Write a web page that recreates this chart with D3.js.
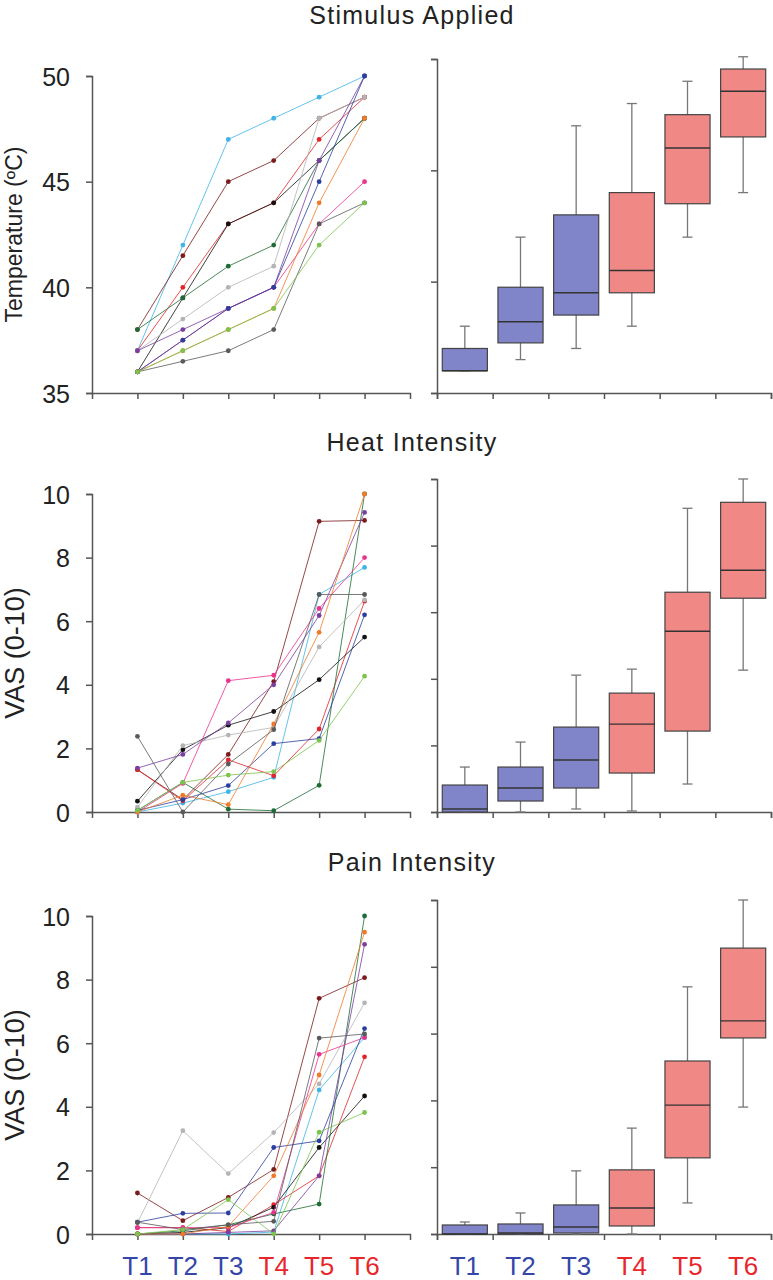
<!DOCTYPE html>
<html>
<head>
    <meta charset="utf-8">
    <title>Stimulus / Heat / Pain</title>
    <style>
        * { margin: 0; padding: 0; }
        body { background: #fff; }
        svg text { font-family: "Liberation Sans", Arial, Helvetica, sans-serif; fill: #222; }
        .axis path, .axis line { stroke: #555; stroke-width: 1.5; }
    </style>
    <script src="https://cdn.jsdelivr.net/npm/d3@7"></script>
</head>
<body>
<div id="root"></div>
<script>
    // time points
    var timepoints = ["T1", "T2", "T3", "T4", "T5", "T6"];
    var tpColors = ["#3446a8", "#3446a8", "#3446a8", "#e8262c", "#e8262c", "#e8262c"];

    // one colour per subject
    var subjectColors = ["#3fb4e5", "#7a1c1c", "#e0262c", "#111111", "#1f6b36", "#b4b4b4",
                         "#7b3fa0", "#e8338f", "#2b3f9c", "#f07a2a", "#5a5a5a", "#7cc44c"];

    // stimulus temperature per subject (T1..T6)
    var tempSeries = [
        [37, 42, 47, 48, 49, 50],
        [38, 41.5, 45, 46, 48, 49],
        [37, 40, 43, 44, 47, 49],
        [36, 39.5, 43, 44, 46, 48],
        [38, 39.5, 41, 42, 46, 48],
        [37, 38.5, 40, 41, 48, 49],
        [37, 38, 39, 40, 46, 50],
        [36, 37.5, 39, 40, 43, 45],
        [36, 37.5, 39, 40, 45, 50],
        [36, 37, 38, 39, 44, 48],
        [36, 36.5, 37, 38, 43, 44],
        [36, 37, 38, 39, 42, 44]
    ];

    // heat intensity VAS per subject
    var heatSeries = [
        [0, 0.28, 0.64, 1.09, 6.84, 7.69],
        [1.33, 0.39, 1.81, 4.10, 9.14, 9.17],
        [1.33, 0.35, 1.64, 1.14, 2.61, 6.63],
        [0.34, 1.96, 2.73, 3.16, 4.16, 5.5],
        [0.05, 0.93, 0.09, 0.04, 0.84, 10],
        [0.15, 2.09, 2.42, 2.66, 5.19, 6.67],
        [1.38, 1.81, 2.80, 4.0, 6.18, 9.42],
        [0, 0.9, 4.13, 4.30, 6.40, 8.0],
        [0.05, 0.39, 0.83, 2.15, 2.31, 6.2],
        [0, 0.53, 0.23, 2.77, 5.65, 10],
        [2.38, 0, 1.51, 2.59, 6.84, 6.84],
        [0.05, 0.93, 1.16, 1.27, 2.25, 4.27]
    ];

    // pain intensity VAS per subject
    var painSeries = [
        [0, 0, 0, 0.06, 4.53, 6.18],
        [1.29, 0.42, 1.15, 2.03, 7.41, 8.06],
        [0.2, 0.2, 0.08, 0.92, 1.83, 5.57],
        [0, 0.05, 0.2, 0.84, 2.72, 4.34],
        [0, 0.1, 0.29, 0.63, 0.94, 10],
        [0.35, 3.25, 1.9, 3.19, 4.72, 7.27],
        [0, 0, 0.05, 0.1, 1.83, 9.11],
        [0.2, 0.2, 0.2, 0.68, 5.65, 6.18],
        [0.37, 0.65, 0.66, 2.72, 2.93, 6.46],
        [0, 0, 0.24, 1.83, 5.0, 9.49],
        [0.37, 0.14, 0.29, 0.4, 6.16, 6.29],
        [0, 0.14, 1.08, 0, 3.2, 3.82]
    ];

    // box stats per time point: [min, q1, median, q3, max]
    var tempBox = [[36, 36, 36, 37, 38], [36.5, 37.25, 38.2, 39.75, 42], [37, 38.5, 39.5, 43, 47],
                   [38, 39.5, 40.5, 44, 48], [42, 43.5, 46, 47.5, 49], [44, 46.5, 48.55, 49.55, 50.1]];
    var heatBox = [[0, 0, 0.09, 0.81, 1.35], [0, 0.33, 0.72, 1.35, 2.1], [0.09, 0.72, 1.56, 2.55, 4.11],
                   [0.03, 1.17, 2.64, 3.57, 4.29], [0.84, 2.43, 5.43, 6.6, 9.12], [4.26, 6.42, 7.26, 9.3, 10]];
    var painBox = [[0, 0, 0, 0.27, 0.36], [0, 0, 0.03, 0.3, 0.63], [0, 0.03, 0.21, 0.87, 1.89],
                   [0, 0.24, 0.78, 1.92, 3.17], [0.93, 2.28, 3.86, 5.18, 7.4], [3.8, 5.87, 6.38, 8.56, 10]];

    var tempTicks = [35, 40, 45, 50];
    var vasTicks = [0, 2, 4, 6, 8, 10];

    var width = 773, height = 1280;
    var svg = d3.select("#root").append("svg").attr("width", width).attr("height", height);

    var panels = [
        { title: "Stimulus Applied", titleY: 24, label: "Temperature (\u00baC)", labelSize: 23, series: tempSeries, box: tempBox,
          domain: [35, 50], ticks: tempTicks, left: [393, 76], right: [393, 59], rightTicks: [35, 40, 45, 50] },
        { title: "Heat Intensity", titleY: 451, label: "VAS (0-10)", labelSize: 27, series: heatSeries, box: heatBox,
          domain: [0, 10], ticks: vasTicks, left: [812, 494], right: [812, 479], rightTicks: vasTicks },
        { title: "Pain Intensity", titleY: 871, label: "VAS (0-10)", labelSize: 27, series: painSeries, box: painBox,
          domain: [0, 10], ticks: vasTicks, left: [1234, 916], right: [1234, 900], rightTicks: vasTicks }
    ];

    var x = d3.scaleLinear().domain([0, 7]).range([92, 410]);
    var xr = d3.scaleBand().domain(timepoints).range([437, 771]).paddingInner(0.19).paddingOuter(0.095);
    var xrTicks = d3.scaleLinear().domain([0, 6]).range([437, 771]);

    panels.forEach(function (p) {
        var y = d3.scaleLinear().domain(p.domain).range(p.left);
        var yr = d3.scaleLinear().domain(p.domain).range(p.right);

        svg.append("text").attr("x", 412).attr("y", p.titleY).attr("text-anchor", "middle")
            .style("font-size", "25px").style("letter-spacing", "1.3px").text(p.title);

        var midY = (p.left[0] + p.left[1]) / 2;
        svg.append("text").attr("transform", "translate(" + (p.labelSize > 24 ? 24 : 22) + "," + midY + ") rotate(-90)")
            .attr("text-anchor", "middle").style("font-size", p.labelSize + "px").text(p.label);

        // left: individual subjects
        var ya = d3.axisLeft(y).tickValues(p.ticks).tickSizeOuter(0).tickSize(6).tickPadding(16);
        var gy = svg.append("g").attr("class", "axis").attr("transform", "translate(92,0)").call(ya);
        gy.selectAll("text").style("font-size", "25px").attr("dy", "0.36em");

        var xa = d3.axisBottom(x).tickValues([1, 2, 3, 4, 5, 6]).tickFormat("").tickSizeOuter(0).tickSize(6);
        svg.append("g").attr("class", "axis").attr("transform", "translate(0," + p.left[0] + ")").call(xa);

        var line = d3.line().x(function (d, i) { return x(i + 1); }).y(function (d) { return y(d); });
        var subj = svg.append("g").selectAll("g").data(p.series).enter().append("g");
        subj.append("path").attr("d", line).attr("fill", "none")
            .attr("stroke", function (d, i) { return subjectColors[i]; })
            .attr("stroke-width", 1).attr("stroke-opacity", 0.8);
        subj.each(function (d, si) {
            d3.select(this).selectAll("circle").data(d).enter().append("circle")
                .attr("cx", function (v, i) { return x(i + 1); })
                .attr("cy", function (v) { return y(v); })
                .attr("r", 2.4).attr("fill", subjectColors[si]);
        });

        // right: box plots
        var yra = d3.axisLeft(yr).tickValues(p.rightTicks).tickFormat("").tickSizeOuter(0).tickSize(6);
        svg.append("g").attr("class", "axis").attr("transform", "translate(437,0)").call(yra);
        var xra = d3.axisBottom(xrTicks).tickValues(d3.range(7)).tickFormat("").tickSizeOuter(0).tickSize(6);
        svg.append("g").attr("class", "axis").attr("transform", "translate(0," + p.right[0] + ")").call(xra);

        var bw = xr.bandwidth();
        var boxes = svg.append("g").selectAll("g").data(p.box).enter().append("g")
            .attr("transform", function (d, i) { return "translate(" + xr(timepoints[i]) + ",0)"; });
        boxes.append("line").attr("x1", bw / 2).attr("x2", bw / 2)
            .attr("y1", function (d) { return yr(d[0]); }).attr("y2", function (d) { return yr(d[4]); })
            .attr("stroke", "#777").attr("stroke-width", 1.3);
        boxes.append("line").attr("x1", bw / 2 - 5).attr("x2", bw / 2 + 5)
            .attr("y1", function (d) { return yr(d[4]); }).attr("y2", function (d) { return yr(d[4]); })
            .attr("stroke", "#777").attr("stroke-width", 1.3);
        boxes.append("line").attr("x1", bw / 2 - 5).attr("x2", bw / 2 + 5)
            .attr("y1", function (d) { return yr(d[0]); }).attr("y2", function (d) { return yr(d[0]); })
            .attr("stroke", "#777").attr("stroke-width", 1.3);
        boxes.append("rect").attr("x", 0).attr("width", bw)
            .attr("y", function (d) { return yr(d[3]); })
            .attr("height", function (d) { return yr(d[1]) - yr(d[3]); })
            .attr("fill", function (d, i) { return i < 3 ? "#8084c8" : "#f08886"; })
            .attr("stroke", "#444").attr("stroke-width", 1.2);
        boxes.append("line").attr("x1", 0).attr("x2", bw)
            .attr("y1", function (d) { return yr(d[2]); }).attr("y2", function (d) { return yr(d[2]); })
            .attr("stroke", "#333").attr("stroke-width", 1.4);
    });

    // time point labels under both bottom panels
    var lab = svg.append("g").style("font-size", "26px");
    lab.selectAll("text.l").data(timepoints).enter().append("text").attr("class", "l")
        .attr("x", function (d, i) { return x(i + 1); }).attr("y", 1275).attr("text-anchor", "middle")
        .style("fill", function (d, i) { return tpColors[i]; }).text(function (d) { return d; });
    lab.selectAll("text.r").data(timepoints).enter().append("text").attr("class", "r")
        .attr("x", function (d) { return xr(d) + xr.bandwidth() / 2; }).attr("y", 1275).attr("text-anchor", "middle")
        .style("fill", function (d, i) { return tpColors[i]; }).text(function (d) { return d; });
</script>
</body>
</html>
